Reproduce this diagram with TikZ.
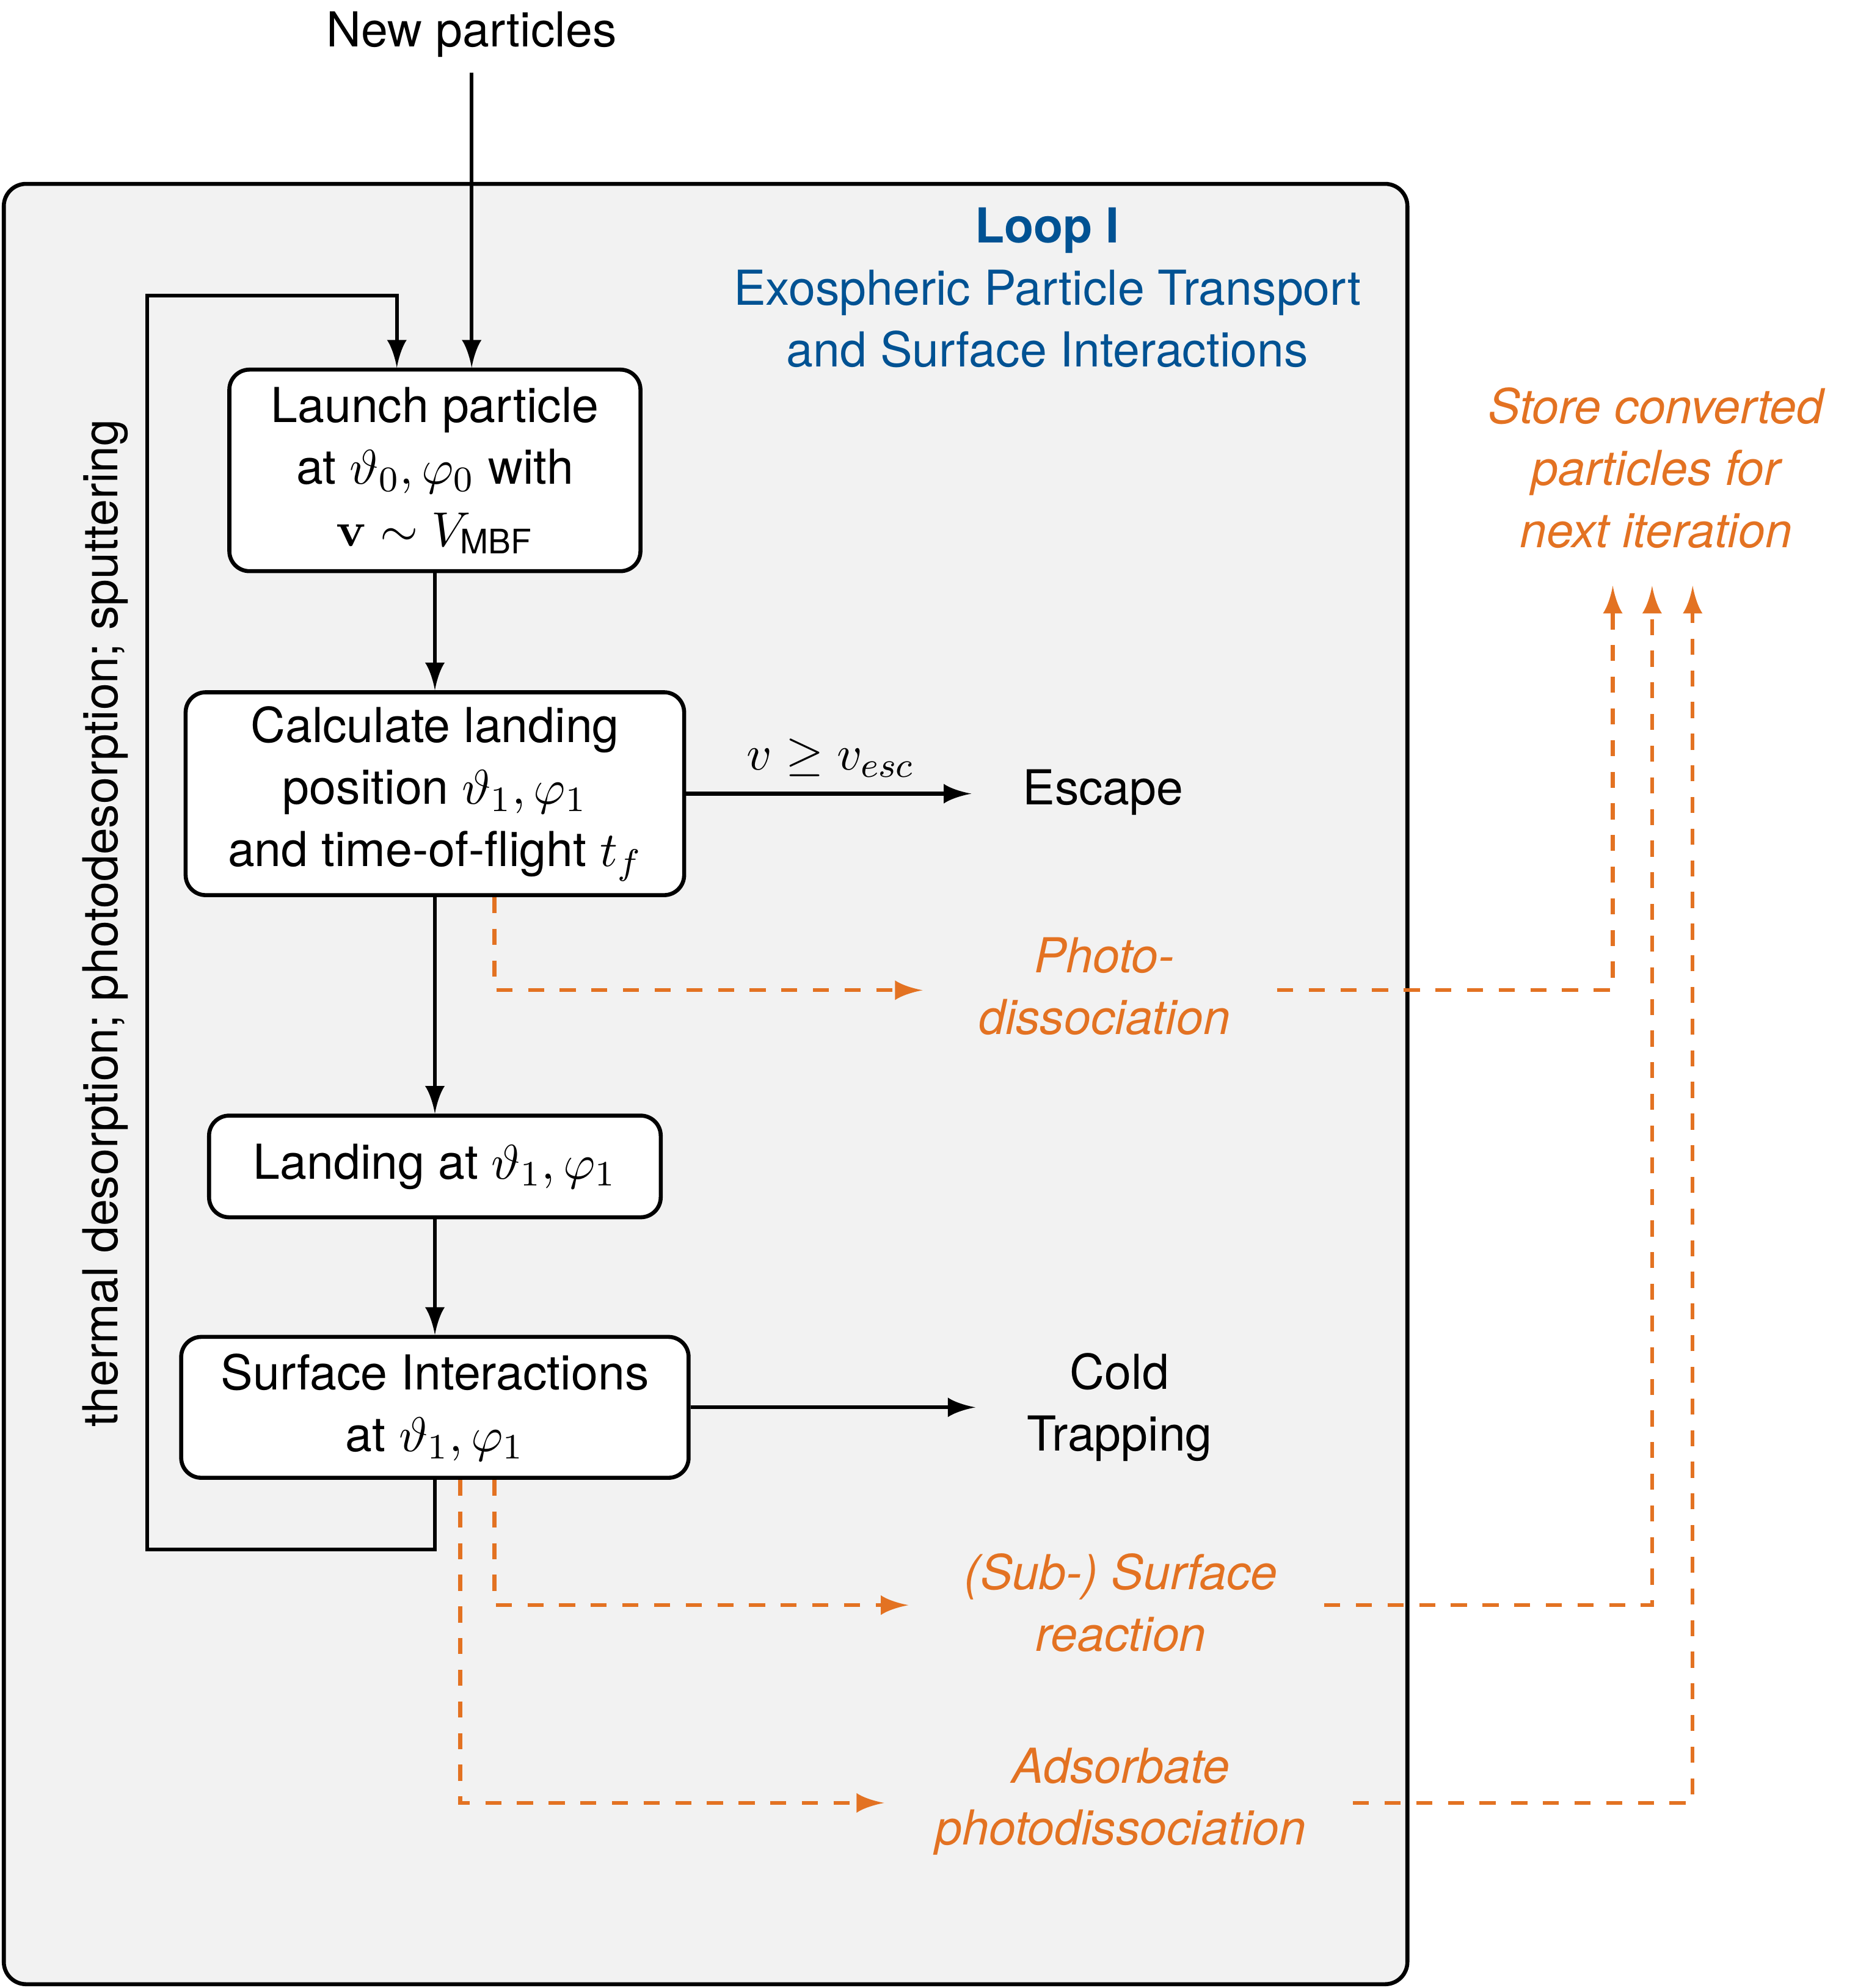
\documentclass[tikz,border=0pt]{standalone}
\usepackage[no-math]{fontspec}
\setmainfont{TeX Gyre Heros}
\usepackage{amsmath}
\usetikzlibrary{arrows.meta,calc}

\definecolor{loopblue}{HTML}{005293}
\definecolor{convorange}{HTML}{E37222}
\definecolor{panelgray}{HTML}{F2F2F2}

\newcommand{\diagfont}{\fontsize{10.8pt}{13.9pt}\selectfont}

% flat-backed tip with concave sides
\pgfdeclarearrow{
  name=Concave,
  parameters={\the\pgfarrowlength,\the\pgfarrowwidth},
  setup code={
    \pgfarrowssettipend{0pt}
    \pgfarrowssetbackend{-\pgfarrowlength}
    \pgfarrowssetlineend{-0.5\pgfarrowlength}
    \pgfarrowssavethe\pgfarrowlength
    \pgfarrowssavethe\pgfarrowwidth
    \pgfarrowshullpoint{0pt}{0pt}
    \pgfarrowshullpoint{-\pgfarrowlength}{.5\pgfarrowwidth}
    \pgfarrowshullpoint{-\pgfarrowlength}{-.5\pgfarrowwidth}
  },
  drawing code={
    \pgfpathmoveto{\pgfpointorigin}
    \pgfpathcurveto{\pgfqpoint{-.4\pgfarrowlength}{.1\pgfarrowwidth}}
      {\pgfqpoint{-.8\pgfarrowlength}{.3\pgfarrowwidth}}
      {\pgfqpoint{-\pgfarrowlength}{.5\pgfarrowwidth}}
    \pgfpathlineto{\pgfqpoint{-\pgfarrowlength}{-.5\pgfarrowwidth}}
    \pgfpathcurveto{\pgfqpoint{-.8\pgfarrowlength}{-.3\pgfarrowwidth}}
      {\pgfqpoint{-.4\pgfarrowlength}{-.1\pgfarrowwidth}}
      {\pgfpointorigin}
    \pgfpathclose
    \pgfusepathqfill
  },
  defaults={length=6.2pt, width=4.4pt}
}

\tikzset{
  every node/.style={font=\diagfont},
  stepbox/.style={draw, line width=0.9pt, rounded corners=4.5pt, fill=white,
    align=center, inner sep=2pt, font=\diagfont},
  flow/.style={-{Concave}, line width=0.85pt},
  convflow/.style={-{Concave}, line width=0.85pt, convorange,
    dash pattern=on 3.6pt off 3.5pt},
  convlabel/.style={text=convorange, font=\diagfont\itshape, align=center},
}

\begin{document}
\begin{tikzpicture}[x=0.01cm, y=-0.01cm]
      \useasboundingbox (0,0) rectangle (1474,1568);
      % loop panel
      \draw[line width=0.9pt, fill=panelgray, rounded corners=5pt]
        (3,145) rectangle (1110,1565);
      \node (newp) at (372,27) {New particles};
      \node[text=loopblue, align=center] (title) at (826,227)
        {\textbf{Loop I}\\Exospheric Particle Transport\\and Surface Interactions};
      % steps
      \node[stepbox, minimum width=92.2pt, minimum height=45.2pt] (launch) at (343,371)
        {Launch particle\\at $\vartheta_0,\varphi_0$ with\\$\mathbf{v}\sim V_{\text{MBF}}$};
      \node[stepbox, minimum width=111.8pt, minimum height=45.5pt] (calc) at (343,626)
        {Calculate landing\\position $\vartheta_1,\varphi_1$\\and time-of-flight $t_f$};
      \node[stepbox, minimum width=101.3pt, minimum height=22.8pt] (land) at (343,920)
        {Landing at $\vartheta_1,\varphi_1$};
      \node[stepbox, minimum width=113.8pt, minimum height=31.6pt] (surf) at (343,1110)
        {Surface Interactions\\at $\vartheta_1,\varphi_1$};
      % outcomes
      \node (escape) at (870,625) {Escape};
      \node[align=center] (cold) at (883,1110) {Cold\\Trapping};
      \node[convlabel] (photo) at (871,778) {Photo-\\dissociation};
      \node[convlabel] (subsurf) at (884,1264) {(Sub-) Surface\\reaction};
      \node[convlabel] (adsorb) at (884,1421) {Adsorbate\\photodissociation};
      \node[convlabel] (store) at (1306,369) {Store converted\\particles for\\next iteration};
      \node[rotate=90] (desorb) at (83,728) {thermal desorption; photodesorption; sputtering};
      \coordinate (fb1) at (116,1222);
      \coordinate (fb2) at (116,233);
      \coordinate (st1) at (1272,462);
      \coordinate (st2) at (1303,462);
      \coordinate (st3) at (1335,462);
      % connectors
      \draw[flow] (newp) -- (newp |- launch.north);
      \draw[flow] (launch) -- (calc);
      \draw[flow] (calc) -- (land);
      \draw[flow] (land) -- (surf);
      \draw[flow, shorten >=8pt] (calc.east) -- node[above, pos=0.45] {$v\geq v_{esc}$}
        (calc.east -| escape.west);
      \draw[flow, shorten >=8pt] (surf.east) -- (surf.east -| cold.west);
      \draw[flow] (surf.south) |- (fb1) -- (fb2) -| ([xshift=-0.3cm]launch.north);
      \begin{scope}[convflow]
        \draw[shorten >=9pt] ($(calc.south)+(47,0)$) |- ([yshift=-0.03cm]photo.west);
        \draw[shorten <=7pt] ([yshift=-0.03cm]photo.east) -| (st1);
        \draw[shorten >=9pt] ($(surf.south)+(47,0)$) |- ([yshift=-0.02cm]subsurf.west);
        \draw[shorten <=7pt] ([yshift=-0.02cm]subsurf.east) -| (st2);
        \draw[shorten >=8pt] ($(surf.south)+(20,0)$) |- ([yshift=-0.01cm]adsorb.west);
        \draw[shorten <=7pt] ([yshift=-0.01cm]adsorb.east) -| (st3);
      \end{scope}
\end{tikzpicture}
\end{document}
